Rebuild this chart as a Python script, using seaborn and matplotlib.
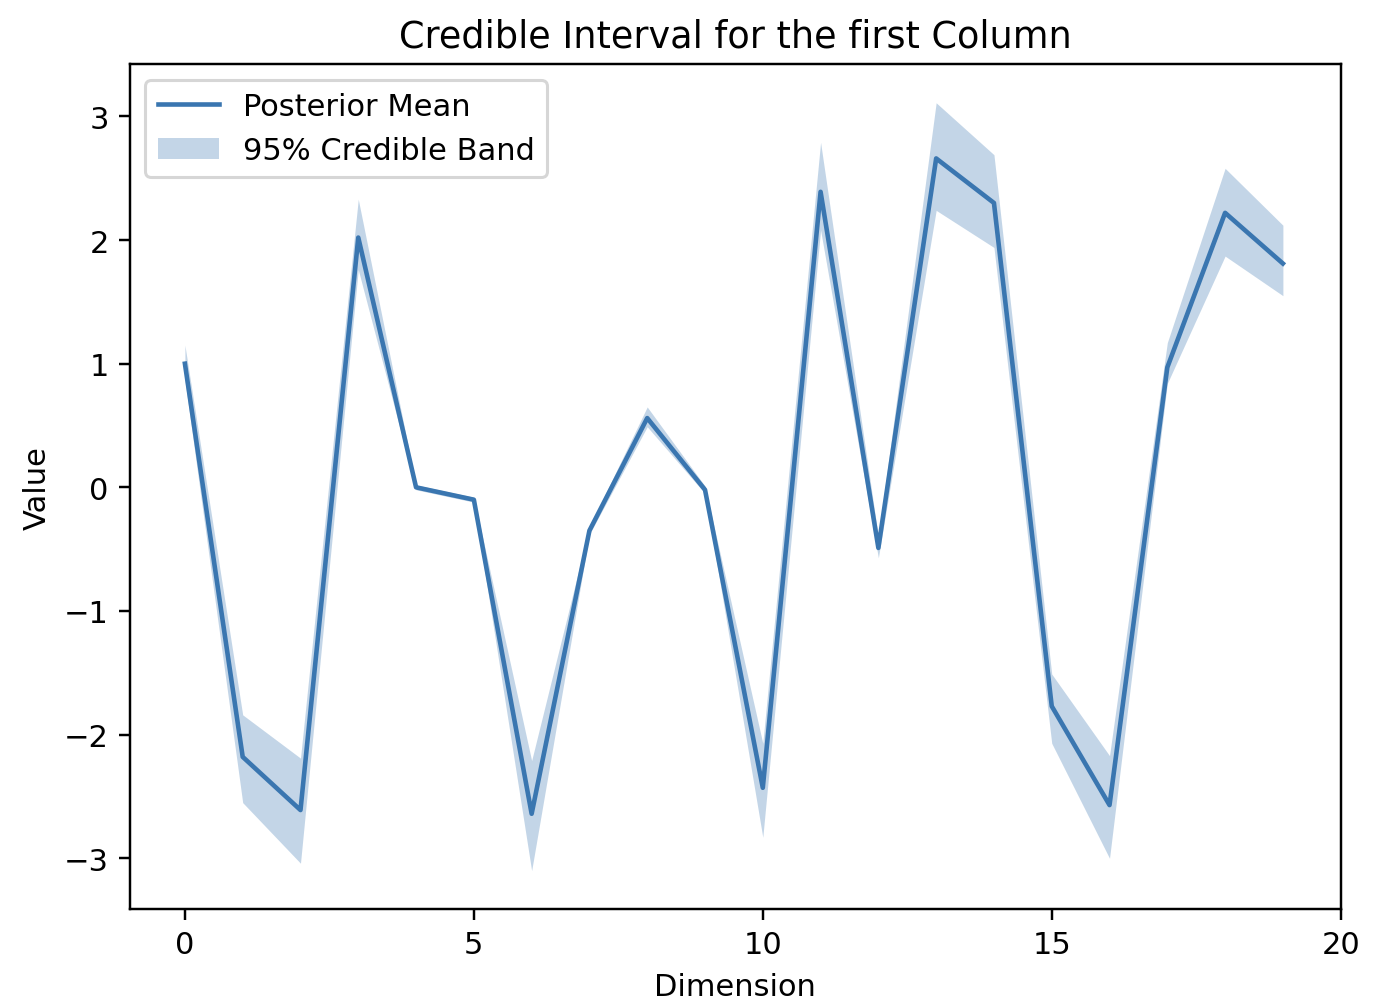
import numpy as np
import pandas as pd
import matplotlib
matplotlib.use("Agg")
import matplotlib.pyplot as plt
import seaborn as sns

dimension = list(range(20))
posterior_mean = [1.00, -2.18, -2.61, 2.02, 0.00, -0.10, -2.64, -0.35, 0.56, -0.02,
                  -2.43, 2.39, -0.49, 2.66, 2.30, -1.77, -2.57, 0.97, 2.22, 1.81]
lower_95 = [0.87, -2.55, -3.04, 1.76, -0.02, -0.12, -3.10, -0.38, 0.49, -0.05,
            -2.83, 2.08, -0.57, 2.24, 1.94, -2.07, -3.00, 0.84, 1.87, 1.55]
upper_95 = [1.15, -1.84, -2.19, 2.33, 0.02, -0.08, -2.21, -0.32, 0.65, 0.01,
            -2.07, 2.79, -0.40, 3.11, 2.69, -1.51, -2.17, 1.17, 2.58, 2.12]

df = pd.DataFrame({"Dimension": dimension, "Value": posterior_mean,
                   "lower": lower_95, "upper": upper_95})

color = "#3a76b0"
DPI = 220

fig, ax = plt.subplots(figsize=(1398 / DPI, 1006 / DPI), dpi=DPI)
fig.subplots_adjust(left=0.093, right=0.959, top=0.935, bottom=0.0954)

sns.lineplot(data=df, x="Dimension", y="Value", ax=ax, color=color,
             linewidth=1.5, label="Posterior Mean")
ax.fill_between(df["Dimension"], df["lower"], df["upper"], color=color,
                alpha=0.3, linewidth=0, label="95% Credible Band")

ax.set_title("Credible Interval for the first Column")
ax.set_xlabel("Dimension")
ax.set_ylabel("Value")
ax.set_xticks([0, 5, 10, 15, 20])
ax.legend(loc="upper left")

fig.savefig("out.png", dpi=DPI)
